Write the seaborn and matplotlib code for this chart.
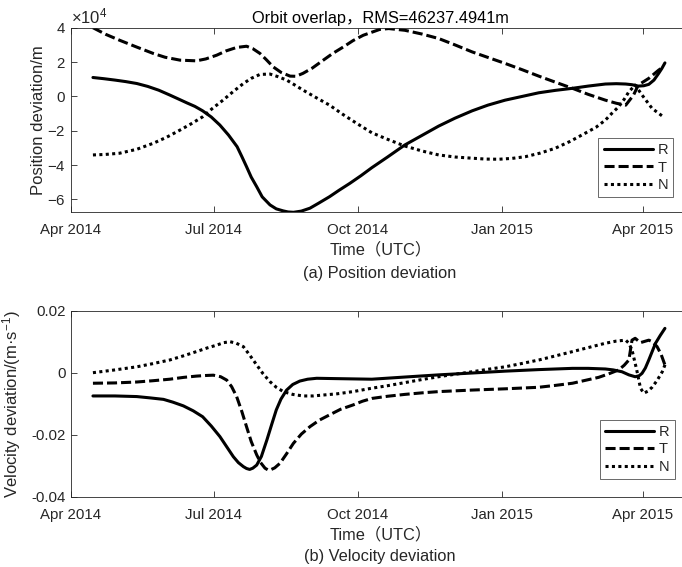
import pandas as pd
import matplotlib.pyplot as plt
import matplotlib.ticker as mticker
import seaborn as sns


# datos (dias desde 2014-04-01)
start = pd.Timestamp("2014-04-01")

pos_r_days = [14, 21, 28, 35, 42, 49, 56, 63, 69, 74, 79, 84, 89.5, 95, 100.5, 106, 109,
              112, 115, 118.5, 122, 127, 131, 135.5, 138.5, 142, 147, 152.5, 158, 165,
              171, 178, 185, 192, 202, 213, 224, 234.6, 245, 256, 266, 277, 288, 298.5,
              309, 320, 330, 341, 348, 354, 358, 362, 365.5, 368.7, 372, 375, 377, 379]
pos_r = [11000, 10300, 9500, 8600, 7500, 5800, 3600, 800, -1700, -3800, -5800, -8400,
         -12000, -16700, -22500, -29300, -35000, -40900, -47000, -52600, -58500, -63200,
         -65500, -66700, -67300, -67500, -66800, -65100, -62200, -58400, -54700, -50600,
         -46200, -41500, -35300, -28300, -22700, -17300, -12700, -8400, -5100, -2200, 0,
         2100, 3500, 4700, 6000, 7200, 7400, 7200, 6800, 6000, 6200, 7000, 9500, 13400,
         16200, 19500]

pos_t_days = [14, 22, 31, 42, 52.5, 60, 69.6, 80, 86, 93, 99, 105.7, 112, 116, 120.6,
              124.5, 129, 134, 139.8, 143.5, 148, 154, 161, 167, 173.8, 180, 186.5, 197,
              202.7, 213, 224, 234.6, 245, 256, 266, 277, 288, 298.5, 309, 320, 330, 341,
              348, 354, 359, 362, 368.7, 375, 378]
pos_t = [40000, 36200, 32700, 28700, 25000, 22800, 21100, 20700, 21800, 24000, 26500,
         28500, 29200, 27800, 25000, 21500, 17200, 14000, 11800, 11700, 13400, 16500,
         21100, 25000, 28800, 32500, 35600, 39000, 39500, 38500, 36300, 33700, 30000,
         25900, 22700, 19200, 15500, 11800, 8300, 4700, 1200, -2200, -4000, -5100, 800,
         6600, 10500, 15300, 17200]

pos_n_days = [14, 22, 31, 42, 52.5, 61, 69.6, 77, 84, 90, 97, 103.5, 110, 115, 120.6,
              127, 132, 137.6, 142.5, 148, 156, 165, 173.5, 182.3, 192, 202, 213, 224,
              234.6, 245, 256, 264.5, 273, 281.5, 290, 299.5, 309, 318.5, 328, 335, 341,
              345, 349.5, 353, 356, 360, 364.4, 370.8, 378]
pos_n = [-34100, -33800, -33100, -30800, -27300, -23800, -19600, -15800, -11900, -7200,
         -2200, 2800, 7500, 10500, 12800, 13000, 11500, 9500, 6800, 3700, -500, -5100,
         -10500, -15700, -21200, -25000, -28900, -31800, -34100, -35300, -36000, -36500,
         -36600, -36100, -35100, -33000, -30200, -26200, -21500, -18000, -13800, -10000,
         -6000, -1700, 2700, 6600, 800, -7000, -11900]

vel_r_days = [14, 28, 42, 50, 59, 65, 71.7, 78, 84, 89.5, 95, 99.5, 103.6, 106.8, 110,
              112, 114, 116, 118.5, 121.5, 125, 128, 131, 134, 137.6, 141.5, 146, 151,
              156.8, 168, 180, 192, 213, 234.6, 256, 277, 298.5, 320, 330, 341, 346,
              351.6, 356, 360, 362.5, 364.4, 366.5, 368.7, 371, 373, 376, 379]
vel_r = [-0.0075, -0.0075, -0.0077, -0.0081, -0.0086, -0.0095, -0.0107, -0.0123, -0.0142,
         -0.0172, -0.0206, -0.0240, -0.0271, -0.0290, -0.0303, -0.0309, -0.0312, -0.0308,
         -0.0298, -0.0270, -0.0217, -0.0168, -0.0120, -0.0085, -0.0056, -0.0038, -0.0027,
         -0.0021, -0.0018, -0.0019, -0.0020, -0.0021, -0.0014, -0.0007, -0.0001, 0.0005,
         0.0010, 0.0014, 0.0014, 0.0012, 0.0009, 0.0003, -0.0007, -0.0013, -0.0010,
         -0.0002, 0.0015, 0.0041, 0.0070, 0.0095, 0.0120, 0.0143]

vel_t_days = [14, 28, 42, 52, 63, 72, 80, 86, 90.8, 95.5, 99.4, 102.5, 105.7, 109, 112,
              115, 118.5, 121, 123.8, 125.5, 127, 130, 133.4, 137.5, 141.9, 147, 152.5,
              158.5, 165, 172, 180, 186, 192, 202, 213, 224, 234.6, 256, 277, 298.5, 309,
              320, 336.7, 343, 349.5, 353, 356, 358, 360, 363.4, 368.7, 371, 374, 376.5, 379]
vel_t = [-0.0034, -0.0033, -0.0030, -0.0026, -0.0021, -0.0015, -0.0011, -0.0009, -0.0008,
         -0.0013, -0.0024, -0.0045, -0.0077, -0.0125, -0.0174, -0.0222, -0.0265, -0.0290,
         -0.0308, -0.0313, -0.0314, -0.0307, -0.0292, -0.0262, -0.0228, -0.0198, -0.0174,
         -0.0153, -0.0136, -0.0118, -0.0104, -0.0092, -0.0083, -0.0076, -0.0070, -0.0065,
         -0.0061, -0.0056, -0.0052, -0.0047, -0.0041, -0.0034, -0.0015, -0.0004, 0.0009,
         0.0024, 0.0041, 0.0105, 0.0111, 0.0097, 0.0105, 0.0100, 0.0084, 0.0060, 0.0025]

vel_n_days = [14, 28, 42, 52, 63, 71.5, 80, 87, 93, 97.5, 101.5, 105.5, 110, 114, 118.5,
              122.5, 127, 131, 135.5, 141.5, 148, 154.5, 161, 170, 180, 192, 202, 213, 224,
              234.6, 245, 256, 266, 277, 288, 298.5, 309, 320, 330, 341, 348, 354, 356,
              358, 361, 363.4, 365.5, 368, 370.8, 374, 377.3, 379.4]
vel_n = [0.0000, 0.0009, 0.0019, 0.0029, 0.0041, 0.0054, 0.0068, 0.0080, 0.0089, 0.0097,
         0.0100, 0.0095, 0.0084, 0.0057, 0.0025, -0.0003, -0.0029, -0.0047, -0.0061,
         -0.0070, -0.0075, -0.0075, -0.0072, -0.0068, -0.0061, -0.0050, -0.0042, -0.0032,
         -0.0022, -0.0013, -0.0005, 0.0003, 0.0011, 0.0019, 0.0030, 0.0041, 0.0054,
         0.0068, 0.0081, 0.0095, 0.0102, 0.0105, 0.0095, 0.0073, 0.0009, -0.0050, -0.0066,
         -0.0060, -0.0047, -0.0025, 0.0003, 0.0030]

labels = ["R", "T", "N"]
xtick_dates = ["2014-04-01", "2014-07-01", "2014-10-01", "2015-01-01", "2015-04-01"]
xtick_labels = ["Apr 2014", "Jul 2014", "Oct 2014", "Jan 2015", "Apr 2015"]
vel_ticks = [-0.04, -0.02, 0, 0.02]
vel_tick_labels = ["-0.04", "-0.02", "0", "0.02"]


def to_dates(days):
    return start + pd.to_timedelta(days, unit="D")


# estilo
sns.set_style("ticks")
plt.rcParams["font.family"] = ["Liberation Sans", "Noto Sans CJK SC", "DejaVu Sans"]
plt.rcParams["axes.unicode_minus"] = False
plt.rcParams["mathtext.fontset"] = "custom"
plt.rcParams["mathtext.rm"] = "Liberation Sans"
plt.rcParams["mathtext.it"] = "Liberation Sans:italic"

GRAY = "#262626"
styles = [
    dict(linestyle="-"),
    dict(linestyle=(0, (3.3, 1.3))),
    dict(linestyle=(0, (1, 1.1))),
]

fig = plt.figure(figsize=(6.82, 5.67), dpi=100)
ax1 = fig.add_axes([71 / 682, 1 - 212.3 / 567, 619 / 682, 184.6 / 567])
ax2 = fig.add_axes([71 / 682, 1 - 496.7 / 567, 619 / 682, 186 / 567])

pos_series = [(pos_r_days, pos_r), (pos_t_days, pos_t), (pos_n_days, pos_n)]
vel_series = [(vel_r_days, vel_r), (vel_t_days, vel_t), (vel_n_days, vel_n)]

for ax, series in [(ax1, pos_series), (ax2, vel_series)]:
    for (d, v), lab, st in zip(series, labels, styles):
        sns.lineplot(x=to_dates(d), y=v, ax=ax, color="black", linewidth=2.2,
                     label=lab, sort=False, **st)

    ax.set_xlim(pd.Timestamp("2014-04-01"), pd.Timestamp("2015-05-01"))
    ax.set_xticks(pd.to_datetime(xtick_dates), xtick_labels)
    ax.tick_params(direction="in", length=4, width=0.6, colors=GRAY,
                   labelsize=10.8, top=True, right=True, pad=4)
    ax.tick_params(axis="x", pad=8)
    for sp in ax.spines.values():
        sp.set_color(GRAY)
        sp.set_linewidth(0.6)
    ax.set_xlabel("Time（UTC）", fontsize=11.8, color=GRAY, labelpad=3.5)

    leg = ax.legend(loc="lower right", fontsize=10.5, frameon=True, fancybox=False,
                    handlelength=3.4, handletextpad=0.3, labelspacing=0.25,
                    borderpad=0.35, borderaxespad=0)
    leg.get_frame().set_edgecolor(GRAY)
    leg.get_frame().set_linewidth(0.6)

# posicion
ax1.set_ylim(-67500, 40000)
ax1.yaxis.set_major_locator(mticker.MultipleLocator(20000))
fmt = mticker.ScalarFormatter(useMathText=True)
fmt.set_powerlimits((0, 0))
ax1.yaxis.set_major_formatter(fmt)
ax1.yaxis.get_offset_text().set_fontsize(12)
ax1.yaxis.get_offset_text().set_color(GRAY)
ax1.set_ylabel("Position deviation/m", fontsize=12, color=GRAY)
ax1.yaxis.set_label_coords(-0.040, 0.5)
ax1.set_title("Orbit overlap，RMS=46237.4941m", fontsize=11.8, color="black", pad=3.6)
ax1.get_legend().set_bbox_to_anchor((0.973, 0.081))

# velocidad
ax2.set_ylim(-0.04, 0.02)
ax2.set_yticks(vel_ticks, vel_tick_labels)
ax2.set_ylabel("Velocity deviation/(m·s$^{-1}$)", fontsize=12, color=GRAY)
ax2.yaxis.set_label_coords(-0.078, 0.5)
ax2.get_legend().set_bbox_to_anchor((0.975, 0.094))

fig.text(380 / 682, 1 - 273.5 / 567, "(a) Position deviation", ha="center", va="center",
         fontsize=11.8, color=GRAY)
fig.text(380 / 682, 1 - 556.5 / 567, "(b) Velocity deviation", ha="center", va="center",
         fontsize=11.8, color=GRAY)

plt.savefig("out.png", dpi=100)
plt.close()
